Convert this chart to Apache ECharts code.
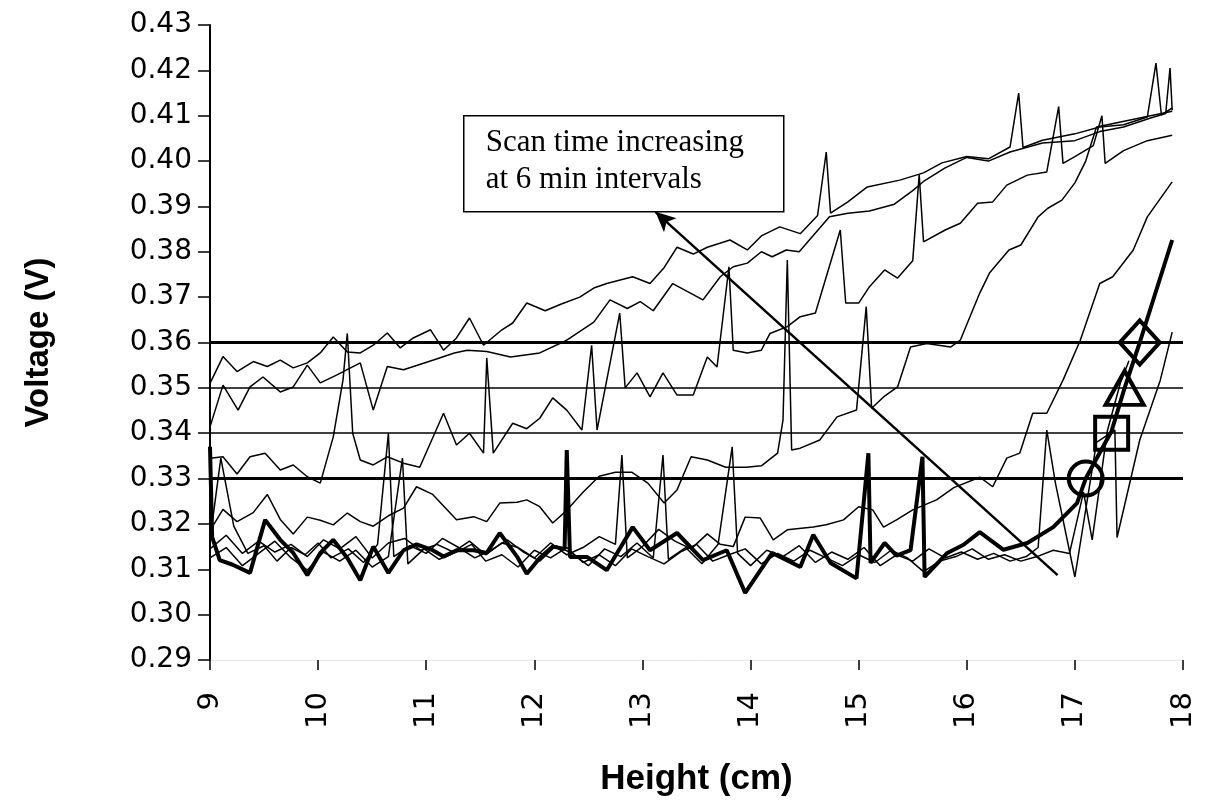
<!DOCTYPE html>
<html>
<head>
<meta charset="utf-8">
<title>Voltage vs height</title>
<script src="https://cdn.jsdelivr.net/npm/echarts@6/dist/echarts.min.js"></script>
<style>
html, body { margin: 0; padding: 0; background: #fff; }
#chart { width: 1206px; height: 810px; }
</style>
</head>
<body>
<div id="chart"></div>
<script>
// [height cm, voltage V] for each scan, latest first
var scan1 = [[9.0,0.351],[9.12,0.3569],[9.25,0.3536],[9.4,0.3558],[9.53,0.3547],[9.65,0.3561],[9.77,0.3544],[9.9,0.3555],[10.02,0.3577],[10.14,0.3612],[10.27,0.3579],[10.39,0.3577],[10.51,0.3594],[10.64,0.3621],[10.76,0.3588],[10.88,0.361],[11.04,0.3628],[11.16,0.3583],[11.28,0.361],[11.4,0.3654],[11.53,0.3594],[11.7,0.3628],[11.8,0.3643],[11.93,0.3687],[12.1,0.367],[12.25,0.3685],[12.42,0.370],[12.55,0.372],[12.67,0.373],[12.91,0.3745],[13.07,0.373],[13.2,0.3765],[13.32,0.381],[13.47,0.3795],[13.6,0.381],[13.81,0.3826],[13.97,0.3804],[14.1,0.3835],[14.27,0.3855],[14.46,0.384],[14.62,0.388],[14.7,0.402],[14.74,0.3885],[14.9,0.391],[15.08,0.3943],[15.38,0.3958],[15.6,0.3974],[15.77,0.3996],[16.0,0.401],[16.2,0.4005],[16.4,0.4031],[16.48,0.415],[16.52,0.403],[16.7,0.4046],[17.0,0.406],[17.23,0.4075],[17.45,0.408],[17.67,0.4097],[17.75,0.4216],[17.8,0.4102],[17.9,0.4117]];
var scan2 = [[9.0,0.3414],[9.12,0.3506],[9.26,0.3451],[9.37,0.3502],[9.49,0.3524],[9.65,0.3491],[9.77,0.3502],[9.9,0.355],[10.02,0.3511],[10.17,0.3528],[10.39,0.3555],[10.51,0.3451],[10.64,0.3547],[10.79,0.354],[11.06,0.3561],[11.26,0.3577],[11.38,0.3583],[11.56,0.358],[11.78,0.3568],[12.05,0.3577],[12.3,0.3605],[12.55,0.3645],[12.7,0.3694],[12.86,0.3675],[12.98,0.369],[13.1,0.367],[13.28,0.373],[13.56,0.3694],[13.72,0.3745],[13.84,0.3767],[13.97,0.3775],[14.1,0.38],[14.2,0.3789],[14.33,0.3804],[14.45,0.380],[14.57,0.3833],[14.73,0.3877],[14.9,0.3885],[15.1,0.389],[15.33,0.3905],[15.5,0.3935],[15.6,0.3955],[15.8,0.3985],[16.0,0.4008],[16.2,0.4],[16.4,0.402],[16.7,0.404],[17.0,0.4045],[17.23,0.4065],[17.45,0.4075],[17.7,0.4095],[17.84,0.4105],[17.88,0.4205],[17.9,0.4112]];
var scan3 = [[9.0,0.3345],[9.12,0.3348],[9.25,0.331],[9.37,0.3348],[9.51,0.3356],[9.65,0.3319],[9.77,0.333],[9.9,0.3304],[10.02,0.329],[10.14,0.3392],[10.23,0.3517],[10.27,0.362],[10.32,0.340],[10.39,0.3341],[10.51,0.333],[10.64,0.3348],[10.79,0.3334],[10.94,0.3325],[11.16,0.3444],[11.28,0.3374],[11.4,0.340],[11.53,0.3356],[11.56,0.3566],[11.62,0.3356],[11.8,0.3422],[11.93,0.341],[12.05,0.3433],[12.17,0.3478],[12.3,0.3451],[12.44,0.3407],[12.53,0.3594],[12.58,0.3407],[12.79,0.3665],[12.84,0.350],[12.95,0.3533],[13.07,0.348],[13.19,0.3533],[13.32,0.3484],[13.47,0.3484],[13.6,0.3568],[13.69,0.3546],[13.8,0.3767],[13.84,0.3583],[13.97,0.3577],[14.1,0.3583],[14.18,0.362],[14.34,0.3635],[14.46,0.3657],[14.6,0.3665],[14.83,0.3848],[14.88,0.3687],[15.0,0.3687],[15.1,0.3723],[15.24,0.376],[15.36,0.3742],[15.5,0.378],[15.56,0.397],[15.6,0.3822],[15.8,0.3848],[15.94,0.3863],[16.1,0.3907],[16.24,0.391],[16.37,0.3947],[16.56,0.3969],[16.74,0.3976],[16.85,0.412],[16.89,0.3995],[17.0,0.401],[17.17,0.4034],[17.25,0.410],[17.28,0.3995],[17.45,0.4023],[17.67,0.4045],[17.9,0.4057]];
var scan4 = [[9.0,0.3185],[9.12,0.3232],[9.25,0.3205],[9.4,0.3225],[9.53,0.3265],[9.65,0.321],[9.77,0.3178],[9.9,0.3215],[10.02,0.3208],[10.14,0.3198],[10.27,0.3224],[10.39,0.3205],[10.51,0.3195],[10.65,0.3218],[10.79,0.3235],[10.91,0.3282],[11.06,0.3265],[11.28,0.3209],[11.44,0.3216],[11.56,0.3205],[11.68,0.3246],[11.84,0.3248],[11.93,0.3253],[12.05,0.3238],[12.17,0.3202],[12.3,0.323],[12.45,0.327],[12.6,0.3305],[12.75,0.3314],[12.9,0.3314],[13.05,0.329],[13.2,0.3246],[13.32,0.3275],[13.45,0.3348],[13.6,0.3341],[13.77,0.3325],[13.96,0.3325],[14.1,0.3328],[14.25,0.3356],[14.3,0.3429],[14.34,0.3782],[14.38,0.3363],[14.46,0.3367],[14.64,0.3385],[14.8,0.3436],[14.98,0.3451],[15.07,0.3679],[15.12,0.3455],[15.23,0.348],[15.36,0.3502],[15.48,0.359],[15.63,0.3598],[15.85,0.359],[15.94,0.3605],[16.12,0.3709],[16.21,0.3753],[16.39,0.3804],[16.5,0.3815],[16.66,0.3877],[16.75,0.3896],[16.88,0.3914],[17.0,0.3952],[17.1,0.4],[17.2,0.4075],[17.4,0.4085],[17.6,0.4095],[17.9,0.411]];
var scan5 = [[9.0,0.3145],[9.15,0.3175],[9.3,0.3135],[9.45,0.3162],[9.6,0.3138],[9.75,0.3155],[9.9,0.3128],[10.05,0.3165],[10.2,0.3145],[10.35,0.3172],[10.5,0.3125],[10.65,0.3158],[10.8,0.3168],[10.95,0.3142],[11.1,0.3155],[11.25,0.3138],[11.4,0.3162],[11.55,0.3132],[11.7,0.3158],[11.85,0.3148],[12.0,0.3125],[12.15,0.3158],[12.3,0.3132],[12.45,0.3148],[12.6,0.3172],[12.75,0.3155],[12.81,0.3352],[12.86,0.3125],[13.0,0.315],[13.15,0.3188],[13.3,0.3162],[13.45,0.3145],[13.6,0.3178],[13.72,0.3155],[13.84,0.315],[13.95,0.3215],[14.09,0.3213],[14.21,0.3165],[14.34,0.3187],[14.58,0.3193],[14.7,0.3198],[14.86,0.3209],[15.0,0.3238],[15.13,0.3231],[15.23,0.3193],[15.35,0.3209],[15.5,0.3231],[15.72,0.3253],[15.88,0.328],[16.12,0.3303],[16.24,0.3282],[16.37,0.3345],[16.49,0.3356],[16.61,0.3444],[16.74,0.3444],[16.89,0.3517],[17.05,0.3605],[17.23,0.373],[17.35,0.3745],[17.54,0.3804],[17.67,0.3877],[17.9,0.3954]];
var scan6 = [[9.0,0.3165],[9.1,0.3345],[9.22,0.3195],[9.35,0.3135],[9.5,0.3152],[9.62,0.3118],[9.75,0.3148],[9.88,0.3132],[10.0,0.3158],[10.12,0.3125],[10.28,0.3145],[10.42,0.3115],[10.55,0.3155],[10.65,0.340],[10.7,0.3128],[10.85,0.3152],[11.0,0.3135],[11.15,0.3168],[11.3,0.3148],[11.45,0.3125],[11.6,0.3142],[11.75,0.3165],[11.9,0.3138],[12.05,0.3118],[12.2,0.3152],[12.35,0.3135],[12.5,0.3108],[12.65,0.3145],[12.8,0.3128],[12.95,0.3158],[13.1,0.3125],[13.19,0.3352],[13.24,0.3122],[13.4,0.3148],[13.55,0.3112],[13.7,0.3155],[13.83,0.337],[13.88,0.3135],[14.0,0.3108],[14.15,0.3142],[14.3,0.3128],[14.45,0.3152],[14.6,0.3115],[14.75,0.3138],[14.9,0.3122],[15.05,0.3148],[15.2,0.3108],[15.35,0.3132],[15.5,0.3118],[15.65,0.3145],[15.8,0.3125],[15.95,0.3138],[16.1,0.3122],[16.25,0.3135],[16.4,0.3118],[16.55,0.3128],[16.66,0.3148],[16.74,0.3407],[16.82,0.329],[17.0,0.3083],[17.2,0.338],[17.37,0.3407],[17.39,0.317],[17.6,0.3385],[17.79,0.3517],[17.9,0.3623]];
var scan7 = [[9.0,0.3125],[9.15,0.3148],[9.3,0.3108],[9.45,0.3135],[9.6,0.3162],[9.75,0.3125],[9.9,0.3098],[10.05,0.3138],[10.2,0.3118],[10.35,0.3142],[10.5,0.3105],[10.65,0.3128],[10.78,0.3345],[10.83,0.3112],[10.98,0.3145],[11.12,0.3122],[11.28,0.3138],[11.42,0.3155],[11.55,0.3118],[11.7,0.3132],[11.85,0.3105],[12.0,0.3142],[12.15,0.3125],[12.3,0.3148],[12.45,0.3115],[12.6,0.3132],[12.75,0.3108],[12.9,0.3145],[13.05,0.3128],[13.2,0.3112],[13.35,0.3138],[13.5,0.3155],[13.65,0.3118],[13.8,0.3132],[13.95,0.3145],[14.1,0.3112],[14.25,0.3135],[14.4,0.3118],[14.55,0.3142],[14.7,0.3125],[14.85,0.3108],[15.0,0.3132],[15.15,0.3115],[15.3,0.3142],[15.45,0.3125],[15.6,0.3095],[15.75,0.3118],[15.9,0.3128],[16.05,0.3145],[16.2,0.3122],[16.35,0.3132],[16.5,0.3118],[16.65,0.3128],[16.8,0.3142],[16.95,0.3135],[17.08,0.327],[17.16,0.3165],[17.3,0.3405],[17.42,0.351],[17.5,0.356]];
// first scan, drawn bold
var firstScan = [[9.0,0.337],[9.02,0.3171],[9.09,0.312],[9.21,0.311],[9.37,0.3092],[9.51,0.3209],[9.65,0.3165],[9.77,0.3136],[9.9,0.3087],[10.02,0.3136],[10.14,0.3165],[10.27,0.3125],[10.39,0.3076],[10.51,0.315],[10.65,0.3092],[10.79,0.3142],[10.91,0.3155],[11.06,0.3142],[11.16,0.3128],[11.28,0.3142],[11.44,0.3142],[11.56,0.3136],[11.68,0.318],[11.84,0.3128],[11.93,0.309],[12.05,0.3125],[12.17,0.315],[12.28,0.3145],[12.3,0.3363],[12.33,0.3127],[12.49,0.3127],[12.67,0.3098],[12.91,0.3193],[13.07,0.3142],[13.32,0.318],[13.56,0.312],[13.78,0.3142],[13.95,0.3048],[14.2,0.3136],[14.46,0.3105],[14.58,0.3176],[14.74,0.3114],[14.98,0.308],[15.09,0.3356],[15.11,0.3114],[15.24,0.3158],[15.35,0.313],[15.48,0.3142],[15.59,0.3348],[15.61,0.3083],[15.82,0.3136],[15.97,0.3154],[16.12,0.3182],[16.34,0.3143],[16.56,0.3158],[16.8,0.3193],[17.02,0.3246],[17.1,0.33],[17.34,0.3405],[17.46,0.35],[17.6,0.36],[17.9,0.3826]];

// threshold markers on the first scan
var markerH = [17.1, 17.34, 17.46, 17.6];
var markerV = [0.33, 0.34, 0.35, 0.36];
var markerShapes = ['circle', 'rect', 'triangle', 'diamond'];

// horizontal threshold levels
var levels = [0.36, 0.35, 0.34, 0.33];
var levelWidths = [3, 1.5, 1.5, 3];

// annotation arrow: tail, head
var arrowFrom = [16.84, 0.3087];
var arrowTo = [13.12, 0.3888];

var myChart = echarts.init(document.getElementById('chart'));

var thinScans = [scan1, scan2, scan3, scan4, scan5, scan6, scan7];
var series = thinScans.map(function(s) {
	return {
		type: 'line',
		data: s,
		symbol: 'none',
		silent: true,
		lineStyle: { color: '#000', width: 1.5 },
		z: 2
	};
});

var markData = levels.map(function(v, i) {
	return { yAxis: v, lineStyle: { width: levelWidths[i], color: '#000', type: 'solid' } };
});
markData.push([
	{ coord: arrowFrom, symbol: 'none' },
	{ coord: arrowTo, symbol: 'arrow', symbolSize: [14, 20] }
]);

series.push({
	type: 'line',
	data: firstScan,
	symbol: 'none',
	silent: true,
	lineStyle: { color: '#000', width: 4 },
	z: 3,
	markLine: {
		silent: true,
		symbol: ['none', 'none'],
		label: { show: false },
		lineStyle: { color: '#000', width: 2.5, type: 'solid' },
		data: markData
	}
});

var markerSizes = [34, 33, [38, 34], [40, 44]];
series.push({
	type: 'scatter',
	silent: true,
	z: 4,
	itemStyle: { color: 'rgba(255,255,255,0)', borderColor: '#000', borderWidth: 4, opacity: 1 },
	data: markerH.map(function(h, i) {
		return { value: [h, markerV[i]], symbol: markerShapes[i], symbolSize: markerSizes[i] };
	})
});

myChart.setOption({
	animation: false,
	backgroundColor: '#fff',
	grid: { left: 210, right: 23, top: 25, bottom: 150 },
	xAxis: {
		type: 'value',
		min: 9,
		max: 18,
		interval: 1,
		axisLine: { show: true, lineStyle: { color: '#e6e6e6', width: 1 } },
		axisTick: { show: true, length: 10, lineStyle: { color: '#000', width: 1.5 } },
		splitLine: { show: false },
		axisLabel: { rotate: 90, margin: 32, color: '#000', fontSize: 29, fontFamily: 'DejaVu Sans' },
		name: 'Height (cm)',
		nameLocation: 'middle',
		nameGap: 102,
		nameTextStyle: { color: '#000', fontSize: 35, fontWeight: 'bold', fontFamily: 'Liberation Sans' }
	},
	yAxis: {
		type: 'value',
		min: 0.29,
		max: 0.43,
		interval: 0.01,
		axisLine: { show: true, lineStyle: { color: '#000', width: 2 } },
		axisTick: { show: true, length: 12, lineStyle: { color: '#000', width: 1.5 } },
		splitLine: { show: false },
		axisLabel: {
			margin: 18,
			color: '#000',
			fontSize: 28,
			fontFamily: 'DejaVu Sans',
			formatter: function(v) { return v.toFixed(2); }
		},
		name: 'Voltage (V)',
		nameLocation: 'middle',
		nameGap: 155,
		nameTextStyle: { color: '#000', fontSize: 33, fontWeight: 'bold', fontFamily: 'Liberation Sans' }
	},
	graphic: [{
		type: 'group',
		left: 463,
		top: 115,
		z: 10,
		children: [{
			type: 'rect',
			shape: { x: 0, y: 0, width: 320, height: 96 },
			style: { fill: '#fff', stroke: '#000', lineWidth: 1.5 }
		}, {
			type: 'text',
			x: 22,
			y: 9,
			style: {
				text: 'Scan time increasing\nat 6 min intervals',
				fontSize: 31,
				fontFamily: 'Liberation Serif',
				lineHeight: 37,
				fill: '#000'
			}
		}]
	}],
	series: series
});
</script>
</body>
</html>
